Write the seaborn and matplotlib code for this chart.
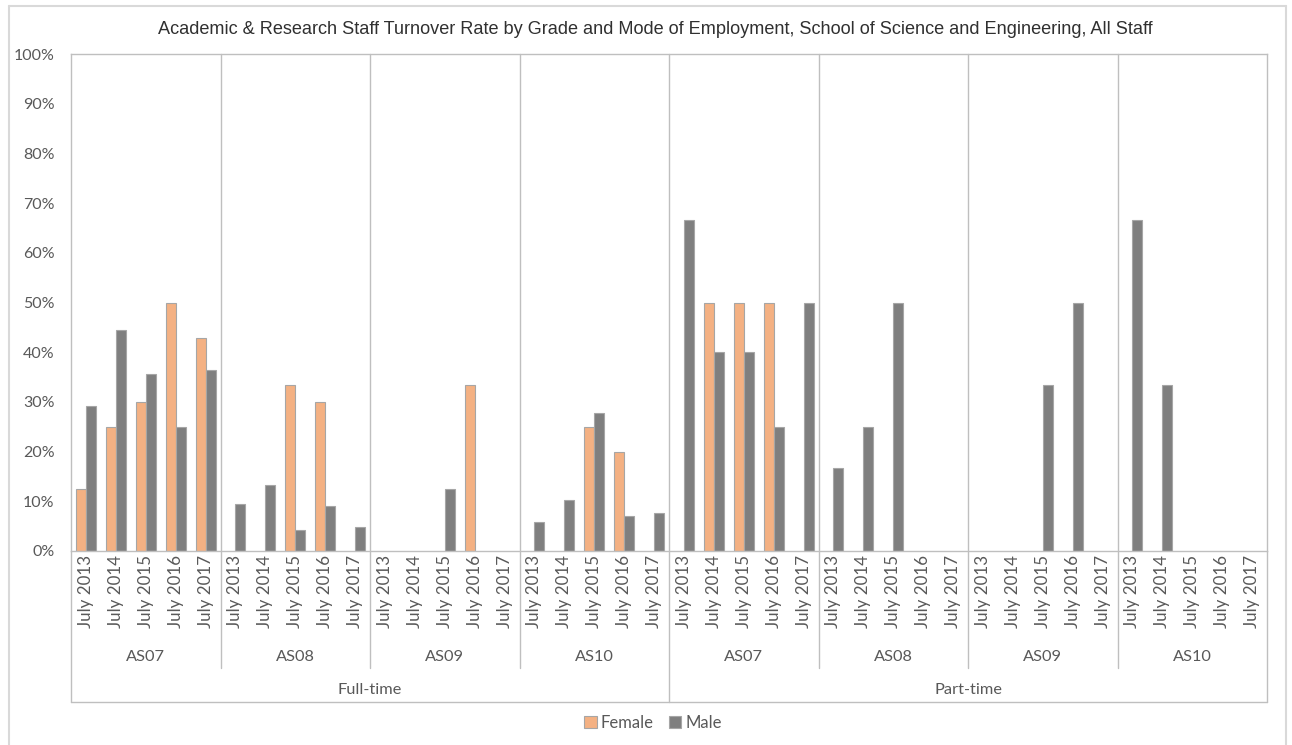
import matplotlib
matplotlib.use("Agg")
import matplotlib.pyplot as plt
import matplotlib.transforms as mtransforms
from matplotlib.patches import Patch
from matplotlib.lines import Line2D
import seaborn as sns
import pandas as pd

# ---- data (turnover rate, %) ----
modes = ["Full-time", "Part-time"]
grades = ["AS07", "AS08", "AS09", "AS10"]
years = ["July 2013", "July 2014", "July 2015", "July 2016", "July 2017"]

# values ordered grade by grade (AS07..AS10), each with 5 years
female_full_time = [12.5, 25.0, 30.0, 50.0, 42.9,
                    0, 0, 33.3, 30.0, 0,
                    0, 0, 0, 33.3, 0,
                    0, 0, 25.0, 20.0, 0]
male_full_time = [29.2, 44.4, 35.7, 25.0, 36.4,
                  9.5, 13.3, 4.3, 9.1, 4.8,
                  0, 0, 12.5, 0, 0,
                  5.8, 10.3, 27.8, 7.0, 7.6]
female_part_time = [0, 50.0, 50.0, 50.0, 0,
                    0, 0, 0, 0, 0,
                    0, 0, 0, 0, 0,
                    0, 0, 0, 0, 0]
male_part_time = [66.7, 40.0, 40.0, 25.0, 50.0,
                  16.7, 25.0, 50.0, 0, 0,
                  0, 0, 33.3, 50.0, 0,
                  66.7, 33.3, 0, 0, 0]

series = {
    ("Full-time", "Female"): female_full_time,
    ("Full-time", "Male"): male_full_time,
    ("Part-time", "Female"): female_part_time,
    ("Part-time", "Male"): male_part_time,
}

rows = []
order = []
for mode in modes:
    for gi, grade in enumerate(grades):
        for yi, year in enumerate(years):
            key = f"{mode}|{grade}|{year}"
            order.append(key)
            for sex in ["Female", "Male"]:
                rows.append({"cat": key, "sex": sex,
                             "rate": series[(mode, sex)][gi * 5 + yi] / 100})
df = pd.DataFrame(rows)
df = df[df["rate"] > 0]

# ---- figure layout (pixel helpers) ----
W, H = 1292, 745
fig = plt.figure(figsize=(W / 100, H / 100), dpi=100)

def fx(px):
    return px / W

def fy(py):
    return 1 - py / H

left, right, top, bottom = 71, 1267, 54, 551
ax = fig.add_axes([fx(left), fy(bottom), fx(right - left), (bottom - top) / H])

sns.set_style("white")
label_font = ["Lato", "DejaVu Sans"]
title_font = ["Liberation Sans", "DejaVu Sans"]
grey_txt = "#595959"
line_col = "#BFBFBF"

palette = {"Female": "#F4B183", "Male": "#7F7F7F"}
sns.barplot(data=df, x="cat", y="rate", hue="sex", order=order,
            hue_order=["Female", "Male"], palette=palette, width=0.67,
            saturation=1, edgecolor="#A6A6A6", linewidth=0.8, ax=ax,
            legend=False, errorbar=None)

n = len(order)
ax.set_xlim(-0.5, n - 0.5)
ax.set_ylim(0, 1)
ax.set_yticks([i / 10 for i in range(11)])
ax.set_yticklabels([f"{i * 10}%" for i in range(11)], fontsize=11.5,
                   color=grey_txt, family=label_font)
ax.tick_params(axis="y", length=0, pad=12)
ax.set_xticks([])
ax.set_xlabel("")
ax.set_ylabel("")
for s in ax.spines.values():
    s.set_color(line_col)
    s.set_linewidth(1.0)

blend = mtransforms.blended_transform_factory(ax.transData, fig.transFigure)

# grade separators (through plot area and label band)
for k in range(1, 8):
    xb = k * 5 - 0.5
    end = 702 if k == 4 else 668
    ax.add_line(Line2D([xb, xb], [fy(top), fy(end)], transform=blend,
                       color=line_col, lw=1.0, clip_on=False))
# outer edges of category band
for xb in [-0.5, n - 0.5]:
    ax.add_line(Line2D([xb, xb], [fy(bottom), fy(702)], transform=blend,
                       color=line_col, lw=1.0, clip_on=False))
ax.add_line(Line2D([-0.5, n - 0.5], [fy(702), fy(702)], transform=blend,
                   color=line_col, lw=1.0, clip_on=False))

# category labels
for i, key in enumerate(order):
    year = key.split("|")[2]
    ax.text(i, fy(555), year, transform=blend, rotation=90, ha="center",
            va="top", fontsize=12.2, color=grey_txt, family=label_font)
for mi, mode in enumerate(modes):
    for gi, grade in enumerate(grades):
        xc = mi * 20 + gi * 5 + 2
        ax.text(xc, fy(657), grade, transform=blend, ha="center",
                va="center", fontsize=11.8, color=grey_txt, family=label_font)
    ax.text(mi * 20 + 9.5, fy(690), mode, transform=blend, ha="center",
            va="center", fontsize=11.8, color=grey_txt, family=label_font)

# title
fig.text(fx(655), fy(30), "Academic & Research Staff Turnover Rate by Grade and Mode of "
         "Employment, School of Science and Engineering, All Staff",
         ha="center", va="center", fontsize=13.1, color="#303030",
         family=title_font)

# legend
handles = [Patch(facecolor=palette["Female"], edgecolor="#A6A6A6", lw=0.8),
           Patch(facecolor=palette["Male"], edgecolor="#A6A6A6", lw=0.8)]
fig.legend(handles, ["Female", "Male"], loc="center", bbox_to_anchor=(fx(653), fy(723)),
           ncol=2, frameon=False, handlelength=0.75, handleheight=0.75,
           handletextpad=0.25, columnspacing=0.9,
           prop={"family": label_font, "size": 12}, labelcolor=grey_txt)

# chart frame
frame_col = "#D9D9D9"
fig.add_artist(Line2D([fx(9), fx(9)], [fy(6), 0], transform=fig.transFigure,
                      color=frame_col, lw=1.5))
fig.add_artist(Line2D([fx(9), fx(1286)], [fy(6), fy(6)], transform=fig.transFigure,
                      color=frame_col, lw=1.5))
fig.add_artist(Line2D([fx(1286), fx(1286)], [fy(6), 0], transform=fig.transFigure,
                      color=frame_col, lw=1.5))

fig.savefig("out.png", dpi=100, facecolor="white")
